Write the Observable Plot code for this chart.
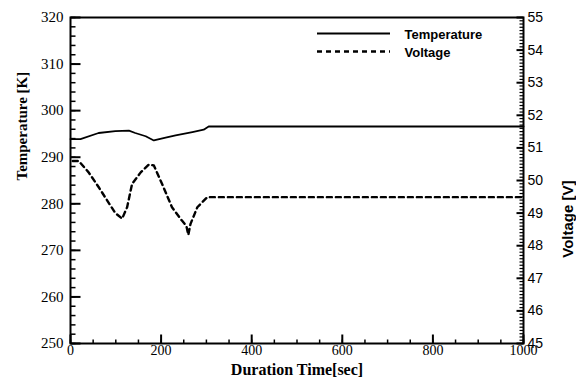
<!DOCTYPE html>
<html><head><meta charset="utf-8">
<script src="https://cdn.jsdelivr.net/npm/d3@7"></script>
<script src="https://cdn.jsdelivr.net/npm/@observablehq/plot@0.6"></script>
<style>body{margin:0;background:#fff} #chart{position:relative;width:576px;height:380px}</style>
</head><body><div id="chart"></div>
<script>
// ---- data ----
const tempTime = [0, 22, 62, 99, 129, 143, 166, 184, 210, 232, 269, 294, 305, 1000];
const tempK    = [293.9, 293.9, 295.2, 295.6, 295.7, 295.2, 294.5, 293.6, 294.2, 294.7, 295.4, 295.9, 296.6, 296.6];
const voltTime = [5, 18, 40, 62, 85, 99, 114, 125, 136, 155, 173, 184, 202, 224, 246, 256, 260, 265, 280, 302, 1000];
const voltV    = [50.6, 50.6, 50.25, 49.8, 49.3, 49.0, 48.83, 49.18, 49.9, 50.25, 50.49, 50.46, 49.9, 49.18, 48.77, 48.6, 48.33, 48.67, 49.18, 49.49, 49.49];
const xTicks = [0, 200, 400, 600, 800, 1000];
const xMinor = d3.range(0, 1001, 50);
const tempTicks = [250, 260, 270, 280, 290, 300, 310, 320];
const tempMinor = d3.range(250, 320.1, 2);
const voltTicks = [45, 46, 47, 48, 49, 50, 51, 52, 53, 54, 55];
const voltMinor = d3.range(450, 551, 1).map(v => v / 10);
const seriesNames = ["Temperature", "Voltage"];
const xTitle = "Duration Time[sec]";
const yLeftTitle = "Temperature [K]";
const yRightTitle = "Voltage [V]";

// map voltage onto temperature scale (secondary axis)
const v2t = v => 250 + (v - 45) * 7;
const t2v = t => (t - 250) / 7 + 45;
const tempData = tempTime.map((t, i) => ({t, y: tempK[i]}));
const voltData = voltTime.map((t, i) => ({t, y: v2t(voltV[i])}));

const serif = "'Liberation Serif','Times New Roman',serif";
const sans = "'Liberation Sans',Arial,sans-serif";

const W = 576, H = 380, mL = 70, mR = 53, mT = 17, mB = 37;
const pw = W - mL - mR, ph = H - mT - mB;
const xDom = [0, 1000], yDom = [250, 320];
// pixel length -> data units (for inward tick marks)
const pxX = px => px * (xDom[1] - xDom[0]) / pw;
const pxY = px => px * (yDom[1] - yDom[0]) / ph;
const leftTicks = (vals, len, sw) => Plot.link(vals, {x1: xDom[0], x2: xDom[0] + pxX(len), y1: d => d, y2: d => d, stroke: "#000", strokeWidth: sw});
const rightTicks = (vals, len, sw) => Plot.link(vals, {x1: xDom[1] - pxX(len), x2: xDom[1], y1: d => d, y2: d => d, stroke: "#000", strokeWidth: sw});
const bottomTicks = (vals, len, sw) => Plot.link(vals, {x1: d => d, x2: d => d, y1: yDom[0], y2: yDom[0] + pxY(len), stroke: "#000", strokeWidth: sw});
// legend
const legLine = (i) => Plot.ruleY([yDom[1]], {y: d => d, dy: 16 + 18 * i,
  insetLeft: 247, insetRight: 133, stroke: "#000", strokeWidth: i ? 2.4 : 1.8, strokeDasharray: i ? "5,4" : null});
const legText = (i) => Plot.text([seriesNames[i]], {text: d => d, frameAnchor: "top-left", dx: 334, dy: 17 + 18 * i,
  textAnchor: "start", lineAnchor: "middle", fontFamily: sans, fontWeight: "bold", fontSize: 13, fill: "#000"});

const chart = Plot.plot({
  width: W, height: H,
  marginLeft: mL, marginRight: mR, marginTop: mT, marginBottom: mB,
  x: {domain: xDom},
  y: {domain: yDom},
  style: {background: "#fff", color: "#000", overflow: "visible"},
  marks: [
    Plot.lineY(tempData, {x: "t", y: "y", stroke: "#000", strokeWidth: 1.8}),
    Plot.lineY(voltData, {x: "t", y: "y", stroke: "#000", strokeWidth: 2.4, strokeDasharray: "5,4"}),
    Plot.axisX(xTicks, {anchor: "bottom", tickSize: 0, tickPadding: 2, fontFamily: serif, fontSize: 14,
      tickFormat: d => String(d), label: null}),
    Plot.axisY(tempTicks, {anchor: "left", tickSize: 0, tickPadding: 7, fontFamily: serif, fontSize: 15,
      tickFormat: d => String(d), label: null}),
    Plot.axisY(voltTicks.map(v2t), {anchor: "right", tickSize: 0, tickPadding: 4, fontFamily: sans, fontSize: 14,
      tickFormat: d => String(Math.round(t2v(d))), label: null}),
    Plot.frame({stroke: "#000", strokeWidth: 2}),
    bottomTicks(xMinor, 4, 1.5),
    bottomTicks(xTicks, 9, 2),
    leftTicks(tempMinor, 5, 1.5),
    leftTicks(tempTicks, 10, 2),
    rightTicks(voltMinor.map(v2t), 4, 1.2),
    rightTicks(voltTicks.map(v2t), 7, 2),
    // axis titles
    Plot.text([xTitle], {text: d => d, frameAnchor: "bottom", dy: 26, lineAnchor: "middle",
      fontFamily: serif, fontWeight: "bold", fontSize: 16, fill: "#000"}),
    Plot.text([yLeftTitle], {text: d => d, frameAnchor: "left", dx: -48, rotate: -90, lineAnchor: "middle",
      fontFamily: serif, fontWeight: "bold", fontSize: 15, fill: "#000"}),
    Plot.text([yRightTitle], {text: d => d, frameAnchor: "right", dx: 45, rotate: -90, lineAnchor: "middle",
      fontFamily: sans, fontWeight: "bold", fontSize: 15, fill: "#000"}),
    // legend
    legLine(0), legLine(1), legText(0), legText(1)
  ]
});
document.getElementById("chart").appendChild(chart);
</script>
</body></html>
